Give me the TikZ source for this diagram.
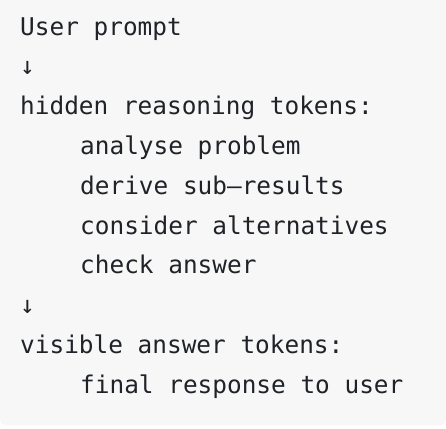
\documentclass[tikz,border=0pt]{standalone}
\usepackage{fontspec}
\newfontfamily\codefont{DejaVu Sans Mono}
\definecolor{bg}{HTML}{F7F7F7}
\definecolor{fg}{HTML}{1F2328}
\begin{document}
\begin{tikzpicture}[x=1pt,y=-1pt,
  codeline/.style={anchor=base west,inner sep=0pt,text=fg,font=\codefont\fontsize{24.4}{28}\selectfont}]
\useasboundingbox (0,0) rectangle (446,428);
\fill[white] (0,0) rectangle (446,428);
\fill[bg,rounded corners=6pt] (0,-10) rectangle (446,425);
\node[codeline] (l1) at (20,35) {User prompt};
\node[codeline] (l2) at (20,74.8) {↓};
\node[codeline] (l3) at (20,114.6) {hidden reasoning tokens:};
\node[codeline] (l4) at (80,154.4) {analyse problem};
\node[codeline] (l5) at (80,194.2) {derive sub–results};
\node[codeline] (l6) at (80,234) {consider alternatives};
\node[codeline] (l7) at (80,273.8) {check answer};
\node[codeline] (l8) at (20,313.6) {↓};
\node[codeline] (l9) at (20,353.4) {visible answer tokens:};
\node[codeline] (l10) at (80,393.2) {final response to user};
\end{tikzpicture}
\end{document}
